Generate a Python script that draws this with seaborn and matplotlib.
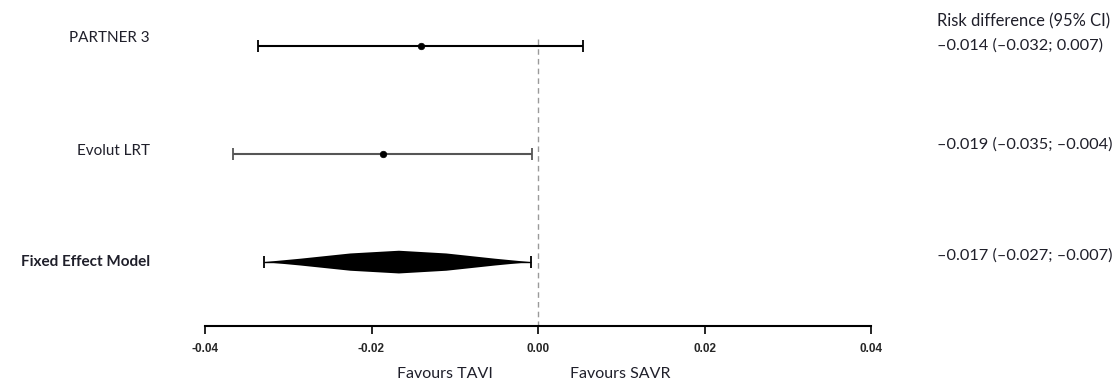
import matplotlib
matplotlib.use("Agg")
import matplotlib.pyplot as plt
import matplotlib.transforms as mtransforms
import numpy as np
import pandas as pd
import seaborn as sns

# values as drawn in the picture
studies = ["PARTNER 3", "Evolut LRT", "Fixed Effect Model"]
est = [-0.0141, -0.0186, -0.0167]
lo = [-0.0336, -0.0366, -0.0329]
hi = [0.0054, -0.0007, -0.0009]
ci_text = ["\u20130.014 (\u20130.032; 0.007)",
           "\u20130.019 (\u20130.035; \u20130.004)",
           "\u20130.017 (\u20130.027; \u20130.007)"]
header = "Risk difference (95% CI)"
xticks = [-0.04, -0.02, 0.00, 0.02, 0.04]
xtick_labels = ["-0.04", "-0.02", "0.00", "0.02", "0.04"]

sns.set_style("white")
plt.rcParams["font.family"] = ["Lato", "DejaVu Sans"]

W, H = 1116, 383
fig = plt.figure(figsize=(W / 100, H / 100), dpi=100)
ax = fig.add_axes([205 / W, (H - 326) / H, 666 / W, 326 / H])

df = pd.DataFrame({"study": studies, "est": est, "lo": lo, "hi": hi})
df["row"] = np.arange(len(df))

studies_df = df.iloc[:2]
colors = ["black", "#555555"]
for (_, r), c in zip(studies_df.iterrows(), colors):
    ax.errorbar(r["est"], r["row"], xerr=[[r["est"] - r["lo"]], [r["hi"] - r["est"]]],
                fmt="none", ecolor=c, elinewidth=1.5, capsize=4.5, capthick=1.3, zorder=3)
sns.scatterplot(data=studies_df, x="est", y="row", color="black", s=22,
                edgecolor="black", linewidth=0.5, ax=ax, zorder=4, legend=False)

# pooled diamond, slightly rounded toward the centre
pooled = df.iloc[2]
hh = 0.105
fr = [1.0, 0.73, 0.36, 0.0]
ht = [0.0, 0.3, 0.76, 1.0]
c, r0 = pooled["est"], pooled["row"]
top_x = [c - f * (c - pooled["lo"]) for f in fr] + [c + f * (pooled["hi"] - c) for f in fr[::-1][1:]]
top_h = ht + ht[::-1][1:]
xs = top_x + top_x[::-1][1:-1]
ys = [r0 - hh * h for h in top_h] + [r0 + hh * h for h in top_h[::-1][1:-1]]
ax.fill(xs, ys, color="black", lw=0, zorder=3)
ax.errorbar(c, r0, xerr=[[c - pooled["lo"]], [pooled["hi"] - c]],
            fmt="none", ecolor="black", elinewidth=1.0, capsize=4.5, capthick=1.3, zorder=3)

y_bottom = (326 - 45.7) / 108.2
y_top = -45.7 / 108.2
ax.plot([0, 0], [-0.062, y_bottom], color="#9a9a9a", lw=1.0, ls=(0, (4, 3)), zorder=1)

ax.set_xlim(-0.04, 0.04)
ax.set_ylim(y_bottom, y_top)
for s in ["top", "right", "left"]:
    ax.spines[s].set_visible(False)
ax.spines["bottom"].set_linewidth(1.5)
ax.spines["bottom"].set_color("black")
ax.set_yticks([])
ax.set_xticks(xticks)
ax.set_xticklabels(xtick_labels, fontfamily="Liberation Sans", fontweight="bold", fontsize=8.5)
ax.tick_params(axis="x", direction="out", length=6, width=1.2, color="black", pad=6, bottom=True)
ax.set_xlabel("")
ax.set_ylabel("")

txt_color = "#1f1f2a"
blend = mtransforms.blended_transform_factory(fig.transFigure, ax.transData)
label_dy = [-0.075, -0.03, 0.0]
for i, name in enumerate(studies):
    ax.text(150 / W, i + label_dy[i], name, transform=blend, ha="right", va="center",
            fontsize=11, color=txt_color, fontweight="bold" if i == 2 else "normal")

text_dy = [0.0, -0.09, -0.065]
ax.text(937 / W, -0.222, header, transform=blend, ha="left", va="center",
        fontsize=11.9, color=txt_color)
for i, t in enumerate(ci_text):
    ax.text(937 / W, i + text_dy[i], t, transform=blend, ha="left", va="center",
            fontsize=11.8, color=txt_color)

fig.text(445 / W, 1 - 374 / H, "Favours TAVI", ha="center", va="center", fontsize=11.5, color=txt_color)
fig.text(620 / W, 1 - 374 / H, "Favours SAVR", ha="center", va="center", fontsize=11.5, color=txt_color)

fig.savefig("out.png", dpi=100, facecolor="white")
